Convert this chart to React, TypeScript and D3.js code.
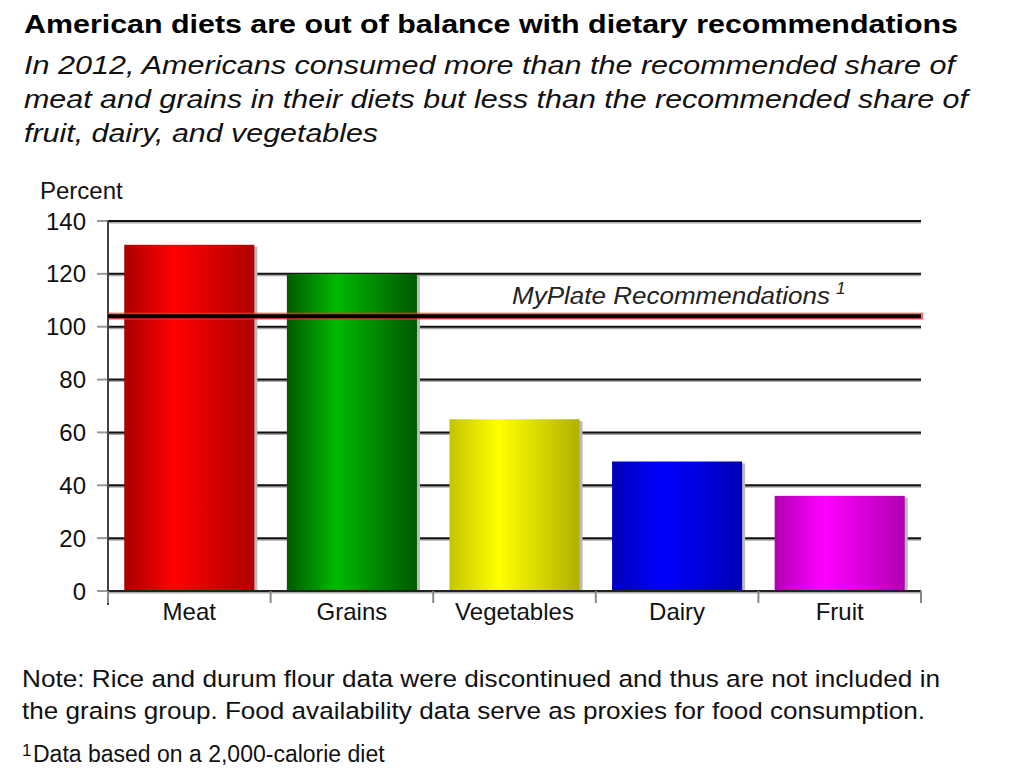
import React from "react";
import * as d3 from "d3";

const categories = ["Meat", "Grains", "Vegetables", "Dairy", "Fruit"];
const values = [131, 120, 65, 49, 36];
const yTicks = [0, 20, 40, 60, 80, 100, 120, 140];
const recommendation = 104;
const barColors = [
  ["#a80000", "#ff0000", "#b00000"],
  ["#005a00", "#00b800", "#005800"],
  ["#c4c400", "#ffff00", "#b0b000"],
  ["#0000b8", "#0000ff", "#0000b8"],
  ["#b000b0", "#ff00ff", "#b000b0"],
];

const titleText = "American diets are out of balance with dietary recommendations";
const subtitleLines = [
  "In 2012, Americans consumed more than the recommended share of",
  "meat and grains in their diets but less than the recommended share of",
  "fruit, dairy, and vegetables",
];
const noteLines = [
  "Note: Rice and durum flour data were discontinued and thus are not included in",
  "the grains group. Food availability data serve as proxies for food consumption.",
];

export default function App() {
  const W = 1024, H = 768;
  const left = 108, right = 921, top = 221, bottom = 591;
  const x = d3.scaleBand<string>().domain(categories).range([left, right]).paddingInner(0.2).paddingOuter(0.1);
  const y = d3.scaleLinear().domain([0, 140]).range([bottom, top]);
  const font = "Liberation Sans, Arial, Helvetica, sans-serif";
  const boundaries = categories.map((c) => (x(c) as number) - x.step() * 0.1).concat([right]);
  boundaries[0] = left;

  return (
    <svg width={W} height={H} style={{ position: "absolute", left: 0, top: 0, background: "#fff" }} fontFamily={font}>
      <defs>
        {barColors.map((c, i) => (
          <linearGradient key={i} id={`g${i}`} x1="0" x2="1" y1="0" y2="0">
            <stop offset="0%" stopColor={c[0]} />
            <stop offset="38%" stopColor={c[1]} />
            <stop offset="100%" stopColor={c[2]} />
          </linearGradient>
        ))}
      </defs>
      <rect x={0} y={0} width={W} height={H} fill="#fff" />
      <text x={24} y={33} fontSize={25} fontWeight="bold" fill="#000" textLength={934} lengthAdjust="spacingAndGlyphs">{titleText}</text>
      {subtitleLines.map((t, i) => (
        <text key={i} x={24} y={74 + i * 34} fontSize={25.5} fontStyle="italic" fill="#111"
          textLength={[931, 944, 354][i]} lengthAdjust="spacingAndGlyphs">{t}</text>
      ))}
      <text x={40} y={199} fontSize={24} fill="#111">Percent</text>

      {/* gridlines */}
      {yTicks.filter((t) => t > 0).map((t) => (
        <g key={t}>
          <line x1={left} x2={right} y1={y(t) + 1.5} y2={y(t) + 1.5} stroke="#aaa" strokeWidth={2} />
          <line x1={left} x2={right} y1={y(t)} y2={y(t)} stroke="#111" strokeWidth={2} />
        </g>
      ))}
      {/* y ticks */}
      {yTicks.map((t) => (
        <g key={t}>
          <line x1={97} x2={left} y1={y(t)} y2={y(t)} stroke="#999" strokeWidth={2} />
          <text x={86} y={y(t) + 8.5} fontSize={24} textAnchor="end" fill="#111">{t}</text>
        </g>
      ))}
      {/* bars */}
      {categories.map((c, i) => (
        <g key={c}>
          <rect x={(x(c) as number) + 3} y={y(values[i]) + 2} width={x.bandwidth()} height={bottom - y(values[i])} fill="#bbb" />
          <rect x={x(c)} y={y(values[i])} width={x.bandwidth()} height={bottom - y(values[i])} fill={`url(#g${i})`} />
        </g>
      ))}
      {/* axes */}
      <line x1={left} x2={left} y1={top} y2={bottom + 14} stroke="#444" strokeWidth={2} />
      <line x1={left} x2={right} y1={bottom + 1.5} y2={bottom + 1.5} stroke="#aaa" strokeWidth={2} />
      <line x1={left} x2={right} y1={bottom} y2={bottom} stroke="#222" strokeWidth={2} />
      {boundaries.map((b, i) => (
        <line key={i} x1={b} x2={b} y1={bottom} y2={bottom + 12} stroke="#888" strokeWidth={2} />
      ))}
      {categories.map((c) => (
        <text key={c} x={(x(c) as number) + x.bandwidth() / 2} y={620} fontSize={24} textAnchor="middle" fill="#111">{c}</text>
      ))}
      {/* recommendation line */}
      <rect x={left} y={y(recommendation) - 3.5} width={right - left + 2} height={7} fill="#f33" opacity={0.75} />
      <line x1={left} x2={right} y1={y(recommendation)} y2={y(recommendation)} stroke="#000" strokeWidth={4} />
      <text x={512} y={304} fontSize={23} fontStyle="italic" fill="#222" textLength={318} lengthAdjust="spacingAndGlyphs">MyPlate Recommendations</text>
      <text x={836} y={294} fontSize={17} fontStyle="italic" fill="#222">1</text>

      {noteLines.map((t, i) => (
        <text key={i} x={22} y={687 + i * 32} fontSize={24.5} fill="#111"
          textLength={[918, 903][i]} lengthAdjust="spacingAndGlyphs">{t}</text>
      ))}
      <text x={22} y={756} fontSize={17} fill="#111">1</text>
      <text x={33} y={762} fontSize={23} fill="#111">Data based on a 2,000-calorie diet</text>
    </svg>
  );
}
